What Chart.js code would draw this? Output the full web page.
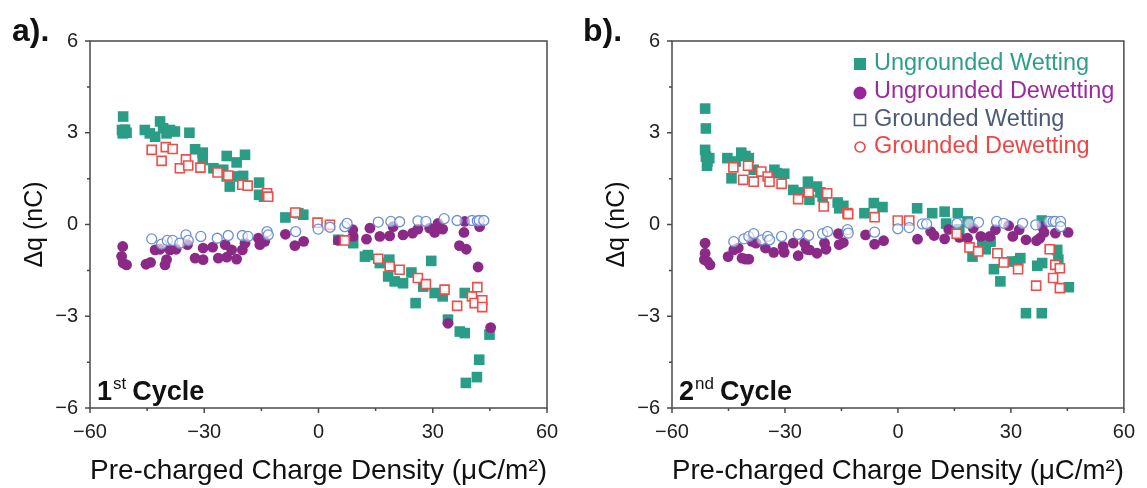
<!DOCTYPE html>
<html>
<head>
<meta charset="utf-8">
<script src="https://cdn.jsdelivr.net/npm/chart.js@4.4.1/dist/chart.umd.min.js"></script>
<style>
  body { margin: 0; background: #fff; }
  #wrap { position: relative; width: 1147px; height: 488px; }
  canvas { position: absolute; top: 0; }
  .panel { position: absolute; top: 12px; font: bold 32px Arial, "Liberation Sans", sans-serif; color: #111; }
</style>
</head>
<body>
<div id="wrap">
  <canvas id="c1" width="573" height="488" style="left:0"></canvas>
  <canvas id="c2" width="574" height="488" style="left:573px"></canvas>
  <div class="panel" style="left:12px">a).</div>
  <div class="panel" style="left:583px">b).</div>
</div>
<script>
// series data: [charge density, delta q]
const seriesNames = ['Ungrounded Wetting', 'Ungrounded Dewetting', 'Grounded Wetting', 'Grounded Dewetting'];

// 1st cycle
const c1UngWet = [[-51.3,3.53],[-51.6,3.09],[-50.8,3.1],[-51.4,2.98],[-50.4,3.0],[-45.6,3.09],[-44.3,2.98],[-42.9,2.87],[-41.6,3.37],[-40.8,3.15],[-39.9,2.98],[-39.0,3.09],[-37.7,3.04],[-33.9,3.0],[-32.4,2.46],[-30.4,2.35],[-30.4,2.11],[-27.6,1.84],[-25.0,1.79],[-24.1,2.24],[-24.1,1.57],[-23.3,1.24],[-21.5,2.03],[-21.5,1.57],[-19.8,1.59],[-19.3,2.28],[-15.6,1.37],[-15.6,0.97],[-14.3,0.91],[-8.7,0.23],[-5.3,0.37],[-4.0,0.32],[5.2,-0.5],[9.1,-0.61],[12.2,-1.05],[13.0,-1.0],[16.1,-1.26],[18.6,-1.15],[18.3,-1.7],[20.0,-1.86],[22.2,-1.92],[24.4,-1.57],[25.5,-2.57],[27.5,-2.03],[29.6,-1.19],[30.5,-2.24],[32.6,-2.35],[34.0,-3.11],[37.1,-3.5],[38.4,-3.55],[38.4,-2.24],[38.7,-5.18],[41.6,-4.99],[42.2,-4.42],[44.9,-3.6]];
const c1UngDew = [[-51.4,-0.72],[-51.7,-1.04],[-51.3,-1.26],[-50.4,-1.32],[-45.3,-1.3],[-44.1,-1.24],[-42.9,-0.83],[-41.6,-0.81],[-40.3,-1.32],[-39.9,-1.15],[-39.0,-0.83],[-37.4,-0.81],[-34.4,-0.66],[-32.4,-1.1],[-30.3,-1.15],[-30.3,-0.77],[-27.8,-0.74],[-26.3,-1.1],[-24.5,-0.66],[-24.1,-1.07],[-22.8,-0.83],[-21.5,-1.13],[-20.0,-0.83],[-19.3,-0.61],[-15.8,-0.45],[-15.4,-0.66],[-14.1,-0.55],[-8.7,-0.32],[-6.2,-0.69],[-3.9,-0.55],[5.2,-0.52],[9.0,-0.17],[9.1,-0.39],[12.6,-0.48],[13.5,-0.12],[16.1,-0.39],[18.7,-0.37],[19.6,-0.07],[22.2,-0.34],[24.7,-0.28],[26.1,-0.15],[29.2,-0.12],[30.5,-0.26],[31.4,0.04],[32.6,-0.15],[34.0,-3.23],[37.0,-0.69],[38.8,-0.81],[38.2,-0.26],[38.4,0.1],[41.9,-1.39],[42.3,-0.07],[45.2,-3.37]];
const c1GrWet = [[-43.8,2.44],[-41.2,2.08],[-40.1,2.53],[-38.3,2.47],[-36.4,1.84],[-34.8,2.13],[-34.2,1.93],[-31.0,1.86],[-26.5,1.7],[-23.7,1.6],[-20.0,1.3],[-18.6,1.27],[-13.5,1.02],[-13.2,0.91],[-6.1,0.39],[-0.26,0.06],[3.0,-0.01],[6.9,-0.52],[15.7,-1.12],[18.7,-1.37],[21.3,-1.48],[26.1,-1.75],[28.2,-1.95],[33.1,-2.13],[36.4,-2.66],[40.3,-2.35],[41.7,-2.05],[41.0,-2.57],[43.0,-2.48],[43.0,-2.7]];
const c1GrDew = [[-43.8,-0.47],[-41.2,-0.64],[-39.7,-0.52],[-38.3,-0.52],[-36.4,-0.61],[-34.8,-0.34],[-34.2,-0.52],[-30.9,-0.39],[-26.6,-0.45],[-23.7,-0.36],[-20.0,-0.36],[-18.5,-0.39],[-13.5,-0.23],[-13.2,-0.34],[-6.0,-0.23],[-0.09,-0.15],[3.0,-0.09],[6.9,-0.07],[7.5,0.04],[15.7,0.08],[19.0,0.1],[21.3,0.09],[26.1,0.12],[28.2,0.1],[33.0,0.19],[36.4,0.13],[40.3,0.13],[41.7,0.12],[42.2,0.13],[43.4,0.13]];

// 2nd cycle
const c2UngWet = [[-51.2,3.79],[-51.0,3.14],[-51.2,2.44],[-51.0,2.22],[-50.6,2.06],[-50.7,1.92],[-50.1,2.17],[-45.3,2.17],[-44.2,1.51],[-43.1,2.06],[-41.6,2.35],[-40.5,2.24],[-39.6,2.17],[-38.3,1.79],[-32.8,1.79],[-32.2,1.68],[-30.2,1.66],[-27.8,1.13],[-25.6,1.05],[-23.9,1.4],[-23.5,0.81],[-21.5,1.24],[-20.6,1.05],[-20.0,0.91],[-16.0,0.72],[-15.6,0.53],[-14.5,0.61],[-8.9,0.37],[-6.4,0.7],[-4.1,0.57],[5.1,0.53],[9.1,0.37],[12.4,0.42],[12.8,0.03],[15.9,0.37],[16.3,-0.16],[18.5,0.1],[19.8,-1.05],[22.4,-0.61],[23.3,-0.81],[24.6,-0.56],[25.5,-1.46],[27.2,-1.86],[30.3,-1.21],[31.9,-1.21],[32.5,-1.1],[34.0,-2.9],[37.0,-1.35],[38.3,-1.26],[38.2,-2.9],[38.2,0.13],[42.3,-0.83],[42.6,-1.15],[45.4,-2.05]];
const c2UngDew = [[-51.2,-0.61],[-51.2,-0.94],[-51.4,-1.15],[-50.6,-1.21],[-49.9,-1.32],[-45.1,-1.05],[-43.6,-0.83],[-42.4,-0.77],[-41.4,-1.1],[-40.5,-1.13],[-39.6,-1.13],[-38.8,-0.55],[-37.7,-0.61],[-35.2,-0.77],[-33.0,-0.91],[-30.5,-0.72],[-30.2,-0.91],[-27.8,-0.61],[-26.5,-1.02],[-24.8,-0.61],[-24.3,-0.81],[-23.5,-0.83],[-21.5,-0.94],[-19.5,-0.61],[-19.1,-0.81],[-15.8,-0.3],[-15.6,-0.66],[-14.5,-0.59],[-8.6,-0.34],[-6.2,-0.64],[-3.8,-0.53],[5.2,-0.48],[8.7,-0.23],[9.6,-0.36],[12.4,-0.47],[13.5,-0.16],[16.3,-0.42],[18.5,-0.45],[20.0,-0.12],[22.0,-0.39],[24.4,-0.39],[25.9,-0.17],[29.4,-0.04],[30.5,-0.39],[32.2,-0.17],[34.0,-0.5],[36.8,-0.53],[37.7,-0.45],[38.3,-0.07],[38.8,-0.26],[41.8,-0.28],[45.2,-0.26]];
const c2GrWet = [[-43.7,1.87],[-41.1,1.46],[-39.8,1.92],[-38.3,1.4],[-36.3,1.73],[-34.6,1.57],[-34.1,1.4],[-30.9,1.33],[-26.5,0.83],[-23.7,1.05],[-19.7,0.59],[-18.8,1.02],[-13.4,0.37],[-13.2,0.34],[-6.2,0.24],[-0.04,0.13],[3.0,0.13],[15.6,-0.3],[19.0,-0.75],[21.3,-0.88],[26.4,-0.94],[28.1,-1.24],[31.9,-1.46],[36.7,-2.0],[40.3,-0.81],[41.2,-1.75],[41.8,-1.32],[43.0,-1.43],[43.0,-2.08]];
const c2GrDew = [[-43.6,-0.56],[-40.9,-0.47],[-39.6,-0.39],[-38.3,-0.3],[-36.1,-0.5],[-34.6,-0.39],[-34.1,-0.5],[-30.9,-0.39],[-26.5,-0.32],[-23.7,-0.36],[-20.0,-0.3],[-18.7,-0.23],[-13.4,-0.17],[-13.2,-0.28],[-6.2,-0.25],[-0.04,-0.14],[3.0,-0.1],[6.5,0.02],[7.6,0.02],[15.7,0.04],[18.9,0.04],[21.4,0.07],[26.2,0.1],[28.1,0.04],[33.1,0.04],[36.6,-0.01],[40.1,0.1],[41.2,0.1],[41.8,0.1],[43.2,0.1],[43.2,-0.07]];

const xTicks = [-60, -30, 0, 30, 60];
const yTicks = [-6, -3, 0, 3, 6];

const FONT = 'Arial, "Liberation Sans", sans-serif';
const teal = '#2a9d86';
const purple = '#8b2a86';
const red = '#ea4f4b';
const blue = '#6e90d2';

function toPts(arr) {
  return arr.map(p => ({ x: p[0], y: p[1] }));
}

function minus(v) {
  return v < 0 ? '\u2212' + Math.abs(v) : String(v);
}

// frame, outward ticks (major + minor), cycle label and legend
const decoPlugin = {
  id: 'deco',
  afterDraw(chart, args, opts) {
    const ctx = chart.ctx;
    const a = chart.chartArea;
    const xs = chart.scales.x, ys = chart.scales.y;
    ctx.save();
    ctx.strokeStyle = '#4a4a4a';
    ctx.lineWidth = 1.5;
    ctx.strokeRect(a.left, a.top, a.right - a.left, a.bottom - a.top);
    ctx.beginPath();
    for (let v = -60; v <= 60; v += 15) {
      const px = xs.getPixelForValue(v);
      const len = (v % 30 === 0) ? 5 : 3;
      ctx.moveTo(px, a.bottom);
      ctx.lineTo(px, a.bottom + len);
    }
    for (let v = -6; v <= 6; v += 1.5) {
      const py = ys.getPixelForValue(v);
      const len = (v % 3 === 0) ? 5 : 3;
      ctx.moveTo(a.left, py);
      ctx.lineTo(a.left - len, py);
    }
    ctx.stroke();

    // "1st Cycle"
    ctx.fillStyle = '#111';
    ctx.textBaseline = 'alphabetic';
    let tx = a.left + 7;
    const ty = a.bottom - 8;
    ctx.font = 'bold 27px ' + FONT;
    ctx.fillText(opts.num, tx, ty);
    tx += ctx.measureText(opts.num).width;
    ctx.font = '17px ' + FONT;
    ctx.fillText(opts.sup, tx + 1, ty - 11);
    tx += ctx.measureText(opts.sup).width + 7;
    ctx.font = 'bold 27px ' + FONT;
    ctx.fillText('Cycle', tx, ty);

    if (opts.legend) {
      const items = [
        { text: seriesNames[0], color: '#2e9e88', shape: 'square', fill: true, mark: teal },
        { text: seriesNames[1], color: '#9c2a9e', shape: 'circle', fill: true, mark: '#9a249b' },
        { text: seriesNames[2], color: '#4b5a78', shape: 'square', fill: false, mark: '#4b5a78' },
        { text: seriesNames[3], color: '#ee4646', shape: 'circle', fill: false, mark: '#ee4646' }
      ];
      const mx = 860 - 573;
      const tx0 = 874 - 573;
      const rowY = [64, 92, 120, 147];
      ctx.font = '23.5px ' + FONT;
      ctx.textBaseline = 'middle';
      items.forEach((it, i) => {
        const y = rowY[i];
        ctx.fillStyle = it.mark;
        ctx.strokeStyle = it.mark;
        ctx.lineWidth = 1.6;
        if (it.shape === 'square') {
          if (it.fill) ctx.fillRect(mx - 6, y - 6, 12, 12);
          else ctx.strokeRect(mx - 5.5, y - 5.5, 11, 11);
        } else {
          ctx.beginPath();
          if (it.fill) { ctx.arc(mx, y + 1, 6.5, 0, Math.PI * 2); ctx.fill(); }
          else { ctx.arc(mx, y, 5, 0, Math.PI * 2); ctx.stroke(); }
        }
        ctx.fillStyle = it.color;
        ctx.fillText(it.text, tx0, y);
      });
    }
    ctx.restore();
  }
};

function makeChart(id, ungWet, ungDew, grWet, grDew, padLeft, yWidth, padRight, deco) {
  return new Chart(document.getElementById(id), {
    type: 'scatter',
    data: {
      datasets: [
        { label: seriesNames[3], data: toPts(grDew), pointStyle: 'circle', pointRadius: 5, borderWidth: 1.3,
          borderColor: blue, backgroundColor: 'rgba(255,255,255,0.6)' },
        { label: seriesNames[2], data: toPts(grWet), pointStyle: 'rect', pointRadius: 6.4, borderWidth: 1.6,
          borderColor: red, backgroundColor: 'rgba(255,255,255,0.9)' },
        { label: seriesNames[1], data: toPts(ungDew), pointStyle: 'circle', pointRadius: 5.4, borderWidth: 0,
          borderColor: purple, backgroundColor: purple },
        { label: seriesNames[0], data: toPts(ungWet), pointStyle: 'rect', pointRadius: 7.5, borderWidth: 0,
          borderColor: teal, backgroundColor: teal }
      ]
    },
    options: {
      responsive: false,
      animation: false,
      devicePixelRatio: 1,
      layout: { padding: { left: padLeft, right: padRight, top: 41, bottom: 0 } },
      scales: {
        x: {
          type: 'linear', min: -60, max: 60,
          grid: { display: false, drawTicks: false },
          border: { display: false },
          afterBuildTicks: s => { s.ticks = xTicks.map(v => ({ value: v })); },
          afterFit: s => { s.height = 80; },
          ticks: { color: '#222', padding: 12, font: { family: FONT, size: 20 }, callback: v => minus(v), maxRotation: 0 },
          title: { display: true, text: 'Pre-charged Charge Density (\u03bcC/m\u00b2)', color: '#111',
            font: { family: FONT, size: 28 }, padding: { top: 0, bottom: 0 } }
        },
        y: {
          type: 'linear', min: -6, max: 6,
          grid: { display: false, drawTicks: false },
          border: { display: false },
          afterBuildTicks: s => { s.ticks = yTicks.map(v => ({ value: v })); },
          afterFit: s => { s.width = yWidth; },
          ticks: { color: '#222', padding: 12, font: { family: FONT, size: 20 }, callback: v => minus(v) },
          title: { display: true, text: '\u0394q (nC)', color: '#111',
            font: { family: FONT, size: 25 }, padding: { top: 0, bottom: 0 } }
        }
      },
      plugins: {
        legend: { display: false },
        tooltip: { enabled: false },
        deco: deco
      }
    },
    plugins: [decoPlugin]
  });
}

makeChart('c1', c1UngWet, c1UngDew, c1GrWet, c1GrDew, 20, 70, 26, { num: '1', sup: 'st', legend: false });
makeChart('c2', c2UngWet, c2UngDew, c2GrWet, c2GrDew, 29, 70, 17, { num: '2', sup: 'nd', legend: true });
</script>
</body>
</html>
